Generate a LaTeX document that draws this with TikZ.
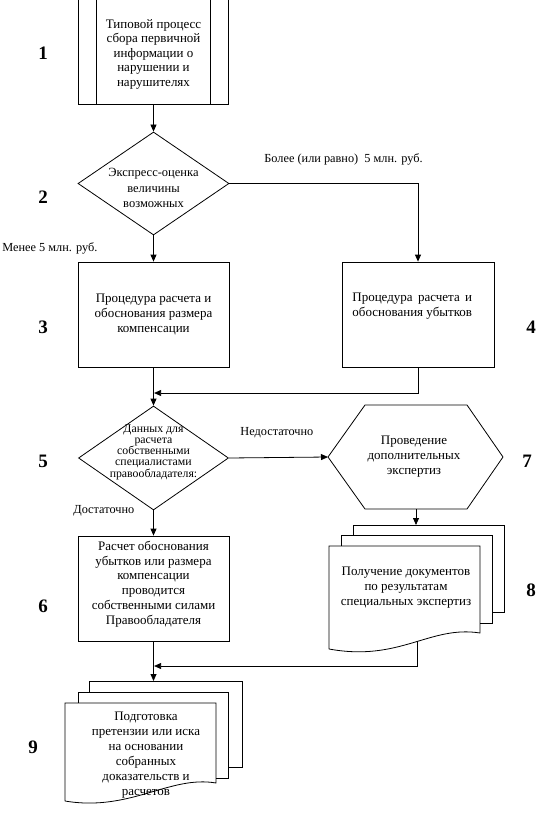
\documentclass[tikz,border=0pt]{standalone}
\usepackage{fontspec}
\setmainfont{Liberation Serif}
\usetikzlibrary{arrows.meta,shapes.geometric}
\newlength\LineW
\begin{document}
\begin{tikzpicture}[x=1pt,y=-1pt, line width=0.8pt,
  txt/.style={font=\fontsize{13}{15}\selectfont, align=center, inner sep=0pt},
  num/.style={font=\fontsize{19}{19}\selectfont\bfseries, inner sep=0pt},
  lbl/.style={font=\fontsize{12.3}{15}\selectfont, inner sep=0pt, anchor=west},
  box/.style={draw, rectangle, inner sep=0pt},
  dia/.style={draw, diamond, inner sep=0pt},
  arr/.style={-{Triangle[length=7pt,width=6pt]}}]
\useasboundingbox (0,0) rectangle (537,813);

% ---- 1: predefined process
\node[box, minimum width=150, minimum height=106] (b1) at (153.5,51) {};
\draw (96.5,-2) -- (96.5,104);
\draw (210.5,-2) -- (210.5,104);
\node[txt, font=\fontsize{13}{14.5}\selectfont] (t1) at (153.5,54) {Типовой процесс\\сбора первичной\\информации о\\нарушении и\\нарушителях};

% ---- 2: decision
\node[dia, minimum width=151, minimum height=103] (d2) at (153.5,183.5) {};
\node[txt, font=\fontsize{12.5}{15.5}\selectfont] (t2) at (153.5,188) {Экспресс-оценка\\величины\\возможных};

% ---- 3 and 4
\node[box, minimum width=151, minimum height=105] (b3) at (153.5,314.5) {};
\node[txt] (t3) at (153.5,314) {Процедура расчета и\\обоснования размера\\компенсации};
\node[box, minimum width=152, minimum height=105] (b4) at (418,314.5) {};
\node[txt, align=left, anchor=west] (t4) at (352,306) {\settowidth\LineW{обоснования убытков}\makebox[\LineW][s]{Процедура\hfil\ расчета\hfil\ и}\\обоснования убытков};

% ---- 5: decision
\node[dia, minimum width=150, minimum height=104] (d5) at (153.5,458) {};
\node[txt, font=\fontsize{11.8}{11.2}\selectfont] (t5) at (153.5,452) {Данных для\\расчета\\собственными\\специалистами\\правообладателя:};

% ---- 7: hexagon
\coordinate (h7w) at (328,457);
\coordinate (h7e) at (503,457);
\coordinate (h7n) at (416,405);
\coordinate (h7s) at (416,509);
\draw (h7w) -- (365,405) -- (467,405) -- (h7e) -- (467,509) -- (365,509) -- cycle;
\node[txt] (t7) at (414,457) {Проведение\\дополнительных\\экспертиз};

% ---- 6
\node[box, minimum width=151, minimum height=105] (b6) at (153.5,588.5) {};
\node[txt, font=\fontsize{13}{14.8}\selectfont] (t6) at (153.5,584) {Расчет обоснования\\убытков или размера\\компенсации\\проводится\\собственными силами\\Правообладателя};

% ---- 8: multi-document
\coordinate (m8n) at (416,525);
\coordinate (m8s) at (417,641);
\draw (353,535) -- (353,525) -- (504,525) -- (504,612) -- (492,612);
\draw (341,546) -- (341,535) -- (492,535) -- (492,623) -- (480,623);
\draw (329,649) -- (329,546) -- (480,546) -- (480,633) .. controls (430,625) and (400,662) .. (329,649);
\node[txt] (t8) at (406,587.5) {Получение документов\\по результатам\\специальных экспертиз};

% ---- 9: multi-document
\coordinate (m9n) at (153.5,681);
\draw (89,692) -- (89,681) -- (242,681) -- (242,767) -- (228,767);
\draw (78,703) -- (78,692) -- (228,692) -- (228,778) -- (216,778);
\draw (65,801) -- (65,703) -- (216,703) -- (216,783) .. controls (170,775) and (130,812) .. (65,801);
\node[txt] (t9) at (146,755) {Подготовка\\претензии или иска\\на основании\\собранных\\доказательств и\\расчетов};

% ---- numbers
\node[num] (n1) at (43,53) {1};
\node[num] (n2) at (43,197) {2};
\node[num] (n3) at (43,327) {3};
\node[num] (n4) at (531,327) {4};
\node[num] (n5) at (43,461) {5};
\node[num] (n7) at (527,461) {7};
\node[num] (n8) at (531,590) {8};
\node[num] (n6) at (43,606) {6};
\node[num] (n9) at (33,747) {9};

% ---- labels
\node[lbl] (l1) at (264,159) {Более (или равно) \ 5 млн. руб.};
\node[lbl] (l2) at (2,248) {Менее 5 млн. руб.};
\node[lbl] (l3) at (240,433) {Недостаточно};
\node[lbl] (l4) at (73,511) {Достаточно};

% ---- connectors
\coordinate (j1) at (153.5,393);
\coordinate (j2) at (153.5,666);
\draw[arr] (b1.south) -- (d2.north);
\draw[arr] (d2.south) -- (b3.north);
\draw[arr] (d2.east) -| (b4.north);
\draw[arr] (b3.south) -- (d5.north);
\draw[arr] (b4.south) |- ([xshift=0.6pt]j1);
\draw[arr] (d5.east) -- (h7w);
\draw[arr] (d5.south) -- (b6.north);
\draw[arr] (h7s) -- (m8n);
\draw[arr] (b6.south) -- (m9n);
\draw[arr] (m8s) |- ([xshift=0.6pt]j2);
\end{tikzpicture}
\end{document}
